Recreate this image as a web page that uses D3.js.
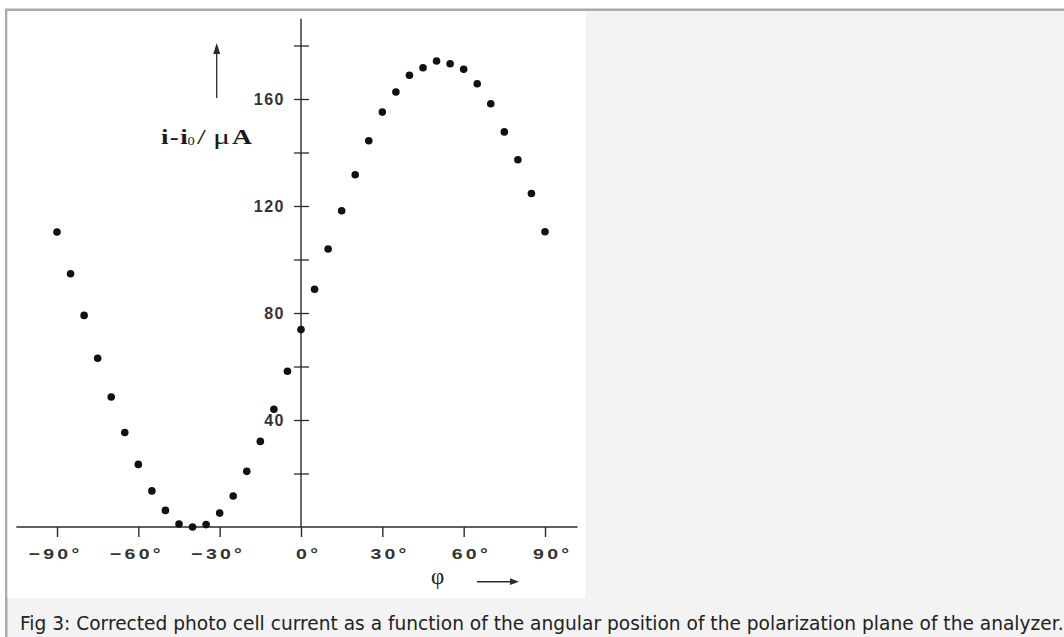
<!DOCTYPE html>
<html>
<head>
<meta charset="utf-8">
<script src="https://cdn.jsdelivr.net/npm/d3@7"></script>
<style>
  html, body { margin: 0; padding: 0; background: #fff; }
  svg { display: block; }
</style>
</head>
<body>
<script>
// analyzer angle phi (degrees)
const angles = [-90, -85, -80, -75, -70, -65, -60, -55, -50, -45, -40, -35, -30,
  -25, -20, -15, -10, -5, 0, 5, 10, 15, 20, 25, 30, 35, 40, 45, 50, 55, 60, 65,
  70, 75, 80, 85, 90];
// corrected photo cell current i - i0 (microampere)
const current = [110.3, 94.7, 79.1, 63.1, 48.6, 35.3, 23.4, 13.5, 6.2, 1.1, 0.0,
  0.9, 5.2, 11.6, 20.8, 32.0, 44.0, 58.2, 73.8, 88.9, 103.9, 118.2, 131.7, 144.4,
  155.1, 162.6, 168.9, 171.7, 174.2, 173.2, 171.1, 165.7, 158.2, 147.7, 137.3,
  124.7, 110.4];

const xTicks = [-90, -60, -30, 0, 30, 60, 90];
const yTicks = [20, 40, 60, 80, 100, 120, 140, 160, 180];
const yLabels = [40, 80, 120, 160];
const caption = "Fig 3: Corrected photo cell current as a function of the angular position of the polarization plane of the analyzer.";

const W = 1064, H = 637;

const svg = d3.select('body')
  .append('svg')
  .attr('width', W)
  .attr('height', H);

// frame: grey border, light panel, white picture
svg.append('rect').attr('x', 5).attr('y', 8.5).attr('width', W).attr('height', H)
  .attr('fill', '#aaaaaa');
svg.append('rect').attr('x', 7.5).attr('y', 11).attr('width', W).attr('height', H)
  .attr('fill', '#f3f3f3');
svg.append('rect').attr('x', 7.5).attr('y', 11).attr('width', 578).attr('height', 587)
  .attr('fill', '#ffffff');

// scales
const x = d3.scaleLinear().domain([-90, 90]).range([57, 545]);
const y = d3.scaleLinear().domain([0, 160]).range([527, 99]);

const ink = '#2b2b2b';

// axis lines
svg.append('line')
  .attr('x1', x(-105)).attr('x2', x(102))
  .attr('y1', y(0)).attr('y2', y(0))
  .attr('stroke', ink).attr('stroke-width', 1.4);

svg.append('line')
  .attr('x1', x(0)).attr('x2', x(0))
  .attr('y1', y(190)).attr('y2', y(0))
  .attr('stroke', ink).attr('stroke-width', 1.4);

// x axis ticks + labels (wide, letter-spaced lettering of the scan)
const xAxis = d3.axisBottom(x)
  .tickValues(xTicks)
  .tickSize(10)
  .tickPadding(11)
  .tickFormat(d => (d < 0 ? '\u2212' : '') + Math.abs(d) + '\u00b0');

const gx = svg.append('g')
  .attr('transform', `translate(0, ${y(0)})`)
  .call(xAxis);
gx.select('.domain').remove();
gx.selectAll('.tick line').attr('stroke', ink).attr('stroke-width', 1.4);
gx.selectAll('.tick text')
  .attr('fill', '#333')
  .attr('dx', d => d < 0 ? -1.5 : 5.5)
  .attr('transform', 'scale(1.3,1)')
  .style('font-family', '"Liberation Sans", Arial, sans-serif')
  .style('font-size', '15px')
  .style('font-weight', 'bold')
  .style('letter-spacing', '2.5px');

// y axis ticks crossing the line + labels
const yAxis = d3.axisLeft(y)
  .tickValues(yTicks)
  .tickSize(7)
  .tickPadding(10)
  .tickFormat(d => yLabels.includes(d) ? d : '');

const gy = svg.append('g')
  .attr('transform', `translate(${x(0)}, 0)`)
  .call(yAxis);
gy.select('.domain').remove();
gy.selectAll('.tick line')
  .attr('x1', 8)
  .attr('stroke', ink).attr('stroke-width', 1.3);
gy.selectAll('.tick text')
  .attr('fill', '#333')
  .attr('dx', 1)
  .style('font-family', '"Liberation Sans", Arial, sans-serif')
  .style('font-size', '16px')
  .style('font-weight', 'bold')
  .style('letter-spacing', '1.5px');

// data points
svg.selectAll('circle.pt')
  .data(angles.map((a, i) => ({ a, v: current[i] })))
  .enter()
  .append('circle')
  .attr('class', 'pt')
  .attr('cx', d => x(d.a))
  .attr('cy', d => y(d.v))
  .attr('r', 3.8)
  .attr('fill', '#111');

// y axis title with arrow
const arrowX = 216.7;
svg.append('line')
  .attr('x1', arrowX).attr('x2', arrowX)
  .attr('y1', 98).attr('y2', 50)
  .attr('stroke', ink).attr('stroke-width', 1.3);
svg.append('path')
  .attr('d', `M${arrowX},43 L${arrowX - 3.5},54 L${arrowX + 3.5},54 Z`)
  .attr('fill', ink);

const serif = '"Liberation Serif", "Times New Roman", serif';
// pieces of "i-i0 / µA", each stretched like the scanned lettering
const ylabParts = [
  { t: 'i-i', x: 161, y: 144, size: 20, bold: true, sx: 1.35, ls: 1 },
  { t: '0', x: 187.5, y: 145, size: 12, bold: false, sx: 1.2, ls: 0 },
  { t: '/', x: 197, y: 144, size: 20, bold: false, sx: 1.6, ls: 0 },
  { t: '\u03bc', x: 213, y: 144, size: 20, bold: false, sx: 1.6, ls: 0 },
  { t: 'A', x: 232, y: 144, size: 20, bold: true, sx: 1.38, ls: 0 }
];
svg.selectAll('text.ylab')
  .data(ylabParts)
  .enter()
  .append('text')
  .attr('class', 'ylab')
  .attr('transform', d => `translate(${d.x},${d.y}) scale(${d.sx},1)`)
  .attr('fill', '#1a1a1a')
  .style('font-family', serif)
  .style('font-size', d => d.size + 'px')
  .style('font-weight', d => d.bold ? 'bold' : 'normal')
  .style('letter-spacing', d => d.ls + 'px')
  .text(d => d.t);

// x axis title with arrow
svg.append('text')
  .attr('x', 431).attr('y', 584)
  .attr('fill', '#222')
  .style('font-family', serif)
  .style('font-size', '23px')
  .text('\u03c6');
svg.append('line')
  .attr('x1', 477).attr('x2', 512)
  .attr('y1', 581.7).attr('y2', 581.7)
  .attr('stroke', ink).attr('stroke-width', 1.4);
svg.append('path')
  .attr('d', 'M519,581.7 L510,578.3 L510,585.1 Z')
  .attr('fill', ink);

// caption
svg.append('text')
  .attr('x', 20).attr('y', 630)
  .attr('fill', '#222')
  .style('font-family', '"DejaVu Sans", sans-serif')
  .style('font-size', '18.6px')
  .text(caption);
</script>
</body>
</html>
